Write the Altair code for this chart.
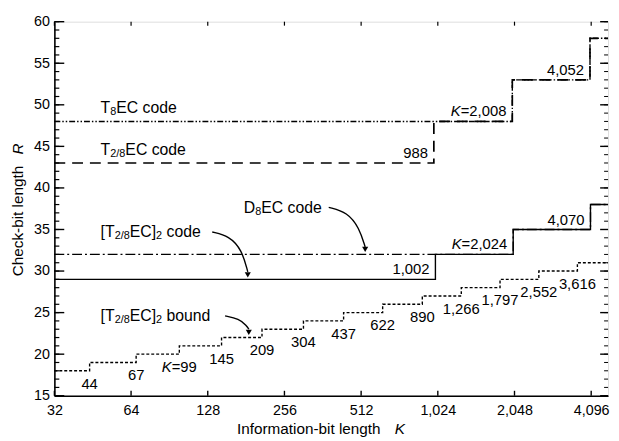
import altair as alt
import pandas as pd

FONT = "Liberation Sans"
W, H = 561, 379

# ---- data ----
t8_K = [32, 2008, 4052, 4770]
t8_R = [48, 53, 58, 58]
t28_K = [32, 988, 2008, 4052, 4770]
t28_R = [43, 48, 53, 58, 58]
d8_K = [32, 2024, 4070, 4770]
d8_R = [32, 35, 38, 38]
t28sq_K = [32, 1002, 2024, 4070, 4770]
t28sq_R = [29, 32, 35, 38, 38]
bound_K = [32, 44, 67, 99, 145, 209, 304, 437, 622, 890, 1266, 1797, 2552, 3616, 4770]
bound_R = [18, 19, 20, 21, 22, 23, 24, 25, 26, 27, 28, 29, 30, 31, 31]

x_ticks = [32, 64, 128, 256, 512, 1024, 2048, 4096]
y_major = [15, 20, 25, 30, 35, 40, 45, 50, 55, 60]
y_minor = list(range(15, 61))

# series name labels: (segments, K, R)
name_labels = [
    ([("T", "n"), ("8", "sub"), ("EC code", "n")], 48.6, 49.55),
    ([("T", "n"), ("2/8", "sub"), ("EC code", "n")], 48.6, 44.56),
    ([("D", "n"), ("8", "sub"), ("EC code", "n")], 177.4, 37.61),
    ([("[T", "n"), ("2/8", "sub"), ("EC]", "n"), ("2", "sub"), (" code", "n")], 48.6, 34.70),
    ([("[T", "n"), ("2/8", "sub"), ("EC]", "n"), ("2", "sub"), (" bound", "n")], 48.6, 24.55),
]

# right-aligned step labels on the code curves: (segments, K, R)
code_step_labels = [
    ([("988", "n")], 988, 43),
    ([("K", "it"), ("=2,008", "n")], 2008, 48),
    ([("4,052", "n")], 4052, 53),
    ([("1,002", "n")], 1002, 29),
    ([("K", "it"), ("=2,024", "n")], 2024, 32),
    ([("4,070", "n")], 4070, 35),
]

# curved arrows (K, R) and heads
arrow1_K = [382, 452, 503.6, 531]
arrow1_R = [37.67, 37.08, 35.18, 32.9]
arrow2_K = [133.3, 155.2, 174.2, 183.8]
arrow2_R = [34.70, 34.23, 32.57, 29.9]
arrow3_K = [149.7, 169.6, 182.2, 185.5]
arrow3_R = [24.61, 24.25, 23.42, 23.0]
head_K = [531, 183.8, 185.5]
head_R = [32.62, 29.55, 22.62]

# ---- helpers ----
CW = {" ": 278, ",": 278, "=": 584, "K": 667, "T": 611, "E": 667, "C": 722, "D": 722,
      "c": 500, "o": 556, "d": 556, "e": 556, "b": 556, "u": 556, "n": 556, "[": 278,
      "]": 278, "/": 278, "-": 333}


def tw(s, size):
    return sum(CW.get(c, 556) for c in s) * size / 1000.0


xs = alt.Scale(type="log", base=2, domain=[32, 4770])
ys = alt.Scale(domain=[15, 60], nice=False, zero=False)
xa = alt.Axis(values=x_ticks, format=",d", title=None, ticks=False, grid=False,
              labelFont=FONT, labelFontSize=14.5, labelColor="black", labelPadding=8,
              domainColor="black", domainWidth=1.6, labelFlush=False, labelOverlap=False)
ya = alt.Axis(values=y_major, title=None, ticks=False, grid=False,
              labelFont=FONT, labelFontSize=14.5, labelColor="black", labelPadding=5,
              domainColor="black", domainWidth=1.6, labelOverlap=False)


def XK():
    return alt.X("K:Q", scale=xs, axis=xa)


def YR():
    return alt.Y("R:Q", scale=ys, axis=ya)


def rich(segs, k, r, align="left", dx=0.0, dy=0.0, size=16, sub=11):
    widths = [tw(t, sub if kind == "sub" else size) for t, kind in segs]
    total = sum(widths)
    if align == "center":
        cur = dx - total / 2
    elif align == "right":
        cur = dx - total
    else:
        cur = dx
    df = pd.DataFrame({"K": [k], "R": [r]})
    out = []
    for (t, kind), w in zip(segs, widths):
        fs = sub if kind == "sub" else size
        lead = len(t) - len(t.lstrip(" "))
        shown = t.lstrip(" ")
        off = cur + tw(" " * lead, fs)
        out.append(alt.Chart(df).mark_text(
            text=shown, align="left", baseline="middle", dx=off,
            dy=dy + (4 if kind == "sub" else 0), font=FONT, fontSize=fs,
            fontStyle="italic" if kind == "it" else "normal", color="black"
        ).encode(x=XK(), y=YR()))
        cur += w
    return out


def step_line(K, R, dash=None, width=1.2):
    df = pd.DataFrame({"K": K, "R": R})
    kw = dict(interpolate="step-after", color="black", strokeWidth=width, clip=True)
    if dash:
        kw["strokeDash"] = dash
    return alt.Chart(df).mark_line(**kw).encode(x=XK(), y=YR())


layers = []
# series
layers.append(step_line(t8_K, t8_R, dash=[6, 2, 1.5, 2, 1.5, 2], width=1.4))
layers.append(step_line(t28_K, t28_R, dash=[11, 7], width=1.7))
layers.append(step_line(d8_K, d8_R, dash=[10, 3, 2, 3], width=1.4))
layers.append(step_line(t28sq_K, t28sq_R, width=1.4))
layers.append(step_line(bound_K, bound_R, dash=[3, 2], width=1.4))

# axis tick marks (inside)
ymin_df = pd.DataFrame({"R": y_minor})
ymaj_df = pd.DataFrame({"R": y_major})
xt_df = pd.DataFrame({"K": x_ticks})
layers.append(alt.Chart(ymin_df).mark_rule(color="black", strokeWidth=1.2).encode(
    y=YR(), x=alt.value(0), x2=alt.value(5)))
layers.append(alt.Chart(ymaj_df).mark_rule(color="black", strokeWidth=1.4).encode(
    y=YR(), x=alt.value(0), x2=alt.value(10)))
layers.append(alt.Chart(ymin_df).mark_rule(color="black", strokeWidth=1.0).encode(
    y=YR(), x=alt.value(W), x2=alt.value(W - 4)))
layers.append(alt.Chart(ymaj_df).mark_rule(color="black", strokeWidth=1.4).encode(
    y=YR(), x=alt.value(W), x2=alt.value(W - 8)))
layers.append(alt.Chart(xt_df).mark_rule(color="black", strokeWidth=1.4).encode(
    x=XK(), y=alt.value(H), y2=alt.value(H - 5)))
layers.append(alt.Chart(xt_df).mark_rule(color="black", strokeWidth=1.2).encode(
    x=XK(), y=alt.value(0), y2=alt.value(4)))

# bound step labels (centered below each step)
for i in range(1, len(bound_K) - 1):
    k = bound_K[i]
    lvl = bound_R[i - 1]
    num = f"{k:,}"
    segs = [("K", "it"), ("=" + num, "n")] if k == 99 else [(num, "n")]
    layers += rich(segs, k, lvl, align="center", dy=13, size=15)

# code step labels (right-aligned, above line)
for segs, k, r in code_step_labels:
    layers += rich(segs, k, r, align="right", dx=-6, dy=-10, size=15)

# series names
for segs, k, r in name_labels:
    layers += rich(segs, k, r, align="left", size=16, sub=11)

# arrows
for aK, aR in [(arrow1_K, arrow1_R), (arrow2_K, arrow2_R), (arrow3_K, arrow3_R)]:
    layers.append(alt.Chart(pd.DataFrame({"K": aK, "R": aR})).mark_line(
        interpolate="basis", color="black", strokeWidth=1.4).encode(x=XK(), y=YR()))
layers.append(alt.Chart(pd.DataFrame({"K": head_K, "R": head_R})).mark_point(
    shape="triangle-down", filled=True, size=38, color="black", opacity=1).encode(
    x=XK(), y=YR()))

# axis titles (with italic variable letters)
one = alt.Data(values=[{}])
layers.append(alt.Chart(one).mark_text(text="Information-bit length", align="left",
    baseline="middle", font=FONT, fontSize=15.5, color="black").encode(
    x=alt.value(185), y=alt.value(413)))
layers.append(alt.Chart(one).mark_text(text="K", align="left", baseline="middle",
    font=FONT, fontSize=15.5, fontStyle="italic", color="black").encode(
    x=alt.value(345), y=alt.value(413)))
layers.append(alt.Chart(one).mark_text(text="Check-bit length", align="center",
    baseline="middle", angle=270, font=FONT, fontSize=15.5, color="black").encode(
    x=alt.value(-37), y=alt.value(202)))
layers.append(alt.Chart(one).mark_text(text="R", align="center", baseline="middle",
    angle=270, font=FONT, fontSize=15.5, fontStyle="italic", color="black").encode(
    x=alt.value(-37), y=alt.value(129)))

chart = alt.layer(*layers).properties(
    width=W, height=H,
    autosize=alt.AutoSizeParams(type="none"),
    padding={"left": 47, "top": 11, "right": 3, "bottom": 43},
).configure_view(stroke="black", strokeWidth=1.2).configure(background="white")

chart.save("out.html", embed_options={"renderer": "svg", "actions": False})
